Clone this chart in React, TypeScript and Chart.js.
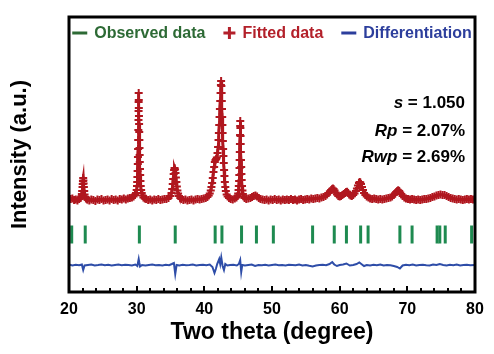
import React, { useEffect, useRef } from "react";
import { Chart, registerables } from "chart.js";

Chart.register(...registerables);

// ---------- DATA ----------
// [two theta (deg), intensity] of the fitted pattern, grouped by region
const fittedLowAngle: number[][] = [
  [20.0, 20], [20.25, 10], [20.5, 15], [20.75, 0], [21.0, 5], [21.25, -5], [21.5, 10], [21.7, 20],
  [21.8, 35], [21.9, 60], [21.95, 90], [22.0, 130], [22.03, 160], [22.06, 190], [22.1, 220], [22.13, 195],
  [22.16, 165], [22.2, 130], [22.25, 90], [22.3, 55], [22.38, 30], [22.5, 15],
  [22.7, 5], [23.0, -5], [23.3, 5], [23.6, 0], [23.9, -10], [24.2, 5], [24.5, 0], [24.8, 10], [25.1, -5],
  [25.4, 0], [25.7, 5], [26.0, -5], [26.3, 10], [26.6, 0], [26.9, 5], [27.2, -5], [27.5, 10], [27.8, 5],
  [28.1, 15], [28.4, 5], [28.7, 15], [29.0, 20], [29.3, 25],
];
const fittedPeak30: number[][] = [
  [29.55, 35], [29.75, 50], [29.9, 70], [30.0, 100], [30.05, 140], [30.08, 180], [30.11, 230], [30.14, 290],
  [30.17, 360], [30.19, 430], [30.21, 510], [30.23, 600], [30.25, 700], [30.27, 800], [30.28, 890],
  [30.29, 980], [30.3, 1070], [30.31, 1000], [30.32, 920], [30.34, 840], [30.36, 760], [30.38, 680],
  [30.4, 600], [30.42, 520], [30.44, 450], [30.46, 380], [30.49, 310], [30.52, 250], [30.56, 190],
  [30.6, 140], [30.66, 100], [30.75, 70], [30.85, 45], [31.0, 25], [31.2, 15],
];
const fittedMid: number[][] = [
  [31.4, 10], [31.7, 0], [32.0, 5], [32.3, -5], [32.6, 5], [32.9, 0], [33.2, 10], [33.5, 0], [33.8, 5],
  [34.1, 10], [34.4, 10], [34.7, 20],
  [35.0, 40], [35.15, 70], [35.25, 110], [35.33, 160], [35.4, 210], [35.47, 260], [35.53, 300], [35.6, 320],
  [35.67, 305], [35.74, 270], [35.8, 225], [35.87, 180], [35.94, 135], [36.02, 95], [36.12, 65],
  [36.25, 40], [36.45, 20],
  [36.6, 10], [36.9, 0], [37.2, 5], [37.5, -5], [37.8, 0], [38.1, 5], [38.4, -5], [38.7, 5], [39.0, 10],
  [39.3, 5], [39.6, 10], [39.9, 15], [40.2, 20],
];
const fittedPeak42: number[][] = [
  [40.45, 30], [40.65, 45], [40.8, 65], [40.95, 95], [41.05, 130], [41.15, 170], [41.25, 220], [41.35, 280],
  [41.45, 330], [41.55, 380], [41.65, 400], [41.75, 410], [41.85, 425], [41.95, 470], [42.03, 530],
  [42.1, 600], [42.15, 670], [42.2, 750], [42.25, 830], [42.3, 910], [42.35, 990], [42.4, 1070],
  [42.45, 1150], [42.48, 1190], [42.52, 1140], [42.55, 1070], [42.58, 990], [42.61, 910], [42.64, 830],
  [42.67, 750], [42.7, 670], [42.74, 590], [42.78, 510], [42.82, 440], [42.87, 370], [42.92, 300],
  [42.97, 240], [43.03, 180], [43.1, 130], [43.18, 90], [43.3, 55], [43.45, 35], [43.65, 20],
  [43.9, 10], [44.2, 5], [44.5, 15],
];
const fittedPeak45: number[][] = [
  [44.75, 25], [44.9, 40], [45.0, 65], [45.06, 100], [45.1, 140], [45.14, 190], [45.17, 250], [45.2, 320],
  [45.22, 400], [45.24, 480], [45.26, 560], [45.28, 650], [45.3, 740], [45.31, 790], [45.33, 720],
  [45.35, 640], [45.37, 560], [45.39, 480], [45.42, 400], [45.45, 330], [45.48, 260], [45.52, 200],
  [45.57, 140], [45.63, 95], [45.7, 60], [45.8, 35], [45.95, 20],
  [46.2, 10], [46.5, 15], [46.8, 20], [47.05, 30], [47.3, 40], [47.55, 45], [47.8, 35], [48.05, 20],
  [48.3, 10],
];
const fittedHighAngle: number[][] = [
  [48.6, 5], [48.9, 0], [49.2, 5], [49.5, -5], [49.8, 5], [50.1, 0], [50.4, 10], [50.7, 0], [51.0, 5],
  [51.3, -5], [51.6, 5], [51.9, 0], [52.2, 5], [52.5, 0], [52.8, 10], [53.1, 0], [53.4, 5], [53.7, -5],
  [54.0, 5], [54.3, 10], [54.6, 0], [54.9, 5], [55.2, 10], [55.5, 5], [55.8, 15], [56.1, 10], [56.4, 15],
  [56.7, 20], [57.0, 15], [57.3, 25], [57.6, 30],
  [57.9, 40], [58.15, 55], [58.35, 70], [58.55, 85], [58.75, 100], [58.9, 110], [59.0, 115], [59.1, 110],
  [59.25, 95], [59.4, 75], [59.6, 55], [59.8, 40], [60.0, 35], [60.2, 40], [60.4, 50], [60.6, 60],
  [60.8, 70], [60.95, 80], [61.1, 82], [61.25, 70], [61.4, 55], [61.6, 45], [61.8, 40], [62.0, 50],
  [62.2, 65], [62.4, 90], [62.55, 115], [62.7, 145], [62.85, 170], [62.95, 180], [63.05, 175],
  [63.15, 160], [63.3, 130], [63.45, 100], [63.6, 70], [63.8, 50], [64.0, 35], [64.25, 25],
  [64.5, 15], [64.8, 10], [65.1, 15], [65.4, 10], [65.7, 5], [66.0, 10], [66.3, 5], [66.6, 10], [66.9, 15],
  [67.2, 20], [67.5, 25],
  [67.75, 35], [68.0, 50], [68.2, 65], [68.35, 80], [68.5, 90], [68.65, 98], [68.8, 90], [68.95, 75],
  [69.1, 60], [69.3, 40], [69.55, 25], [69.8, 15],
  [70.1, 10], [70.4, 5], [70.7, 10], [71.0, 5], [71.3, 0], [71.6, 5], [71.9, 0], [72.2, 5], [72.5, 10],
  [72.8, 10], [73.1, 15],
  [73.4, 20], [73.7, 30], [74.0, 35], [74.3, 45], [74.6, 50], [74.9, 55], [75.2, 50], [75.5, 50],
  [75.8, 40], [76.1, 30], [76.4, 20], [76.7, 15],
  [77.0, 10], [77.3, 5], [77.6, 10], [77.9, 5], [78.2, 0], [78.5, 5], [78.8, 10], [79.1, 5], [79.4, 10],
  [79.7, 5], [80.0, 10],
];

// [two theta, offset difference curve]
const differenceCurve: number[][] = [
  [20.0, -645], [20.5, -655], [21.0, -648], [21.5, -652], [21.9, -645], [22.1, -700], [22.3, -655],
  [22.8, -650], [23.3, -646], [23.8, -654], [24.3, -650], [24.8, -645], [25.3, -652], [25.8, -648],
  [26.3, -655], [26.8, -650], [27.3, -645], [27.8, -652], [28.3, -648], [28.8, -650], [29.3, -655],
  [29.8, -645], [30.1, -660], [30.3, -590], [30.4, -630], [30.5, -665], [30.8, -650], [31.3, -655],
  [31.8, -650], [32.3, -645], [32.8, -652], [33.3, -650], [33.8, -655], [34.3, -648], [34.8, -652],
  [35.2, -640], [35.5, -630], [35.7, -740], [35.9, -650], [36.3, -655], [36.8, -648], [37.3, -652],
  [37.8, -650], [38.3, -645], [38.8, -655], [39.3, -650], [39.8, -648], [40.3, -652], [40.8, -645],
  [41.2, -670], [41.5, -730], [41.7, -690], [41.9, -640], [42.2, -590], [42.35, -640], [42.5, -575],
  [42.7, -660], [42.9, -700], [43.1, -640], [43.4, -655], [43.8, -650], [44.3, -648], [44.8, -655],
  [45.1, -640], [45.3, -600], [45.45, -720], [45.6, -650], [46.0, -655], [46.5, -650], [47.0, -645],
  [47.5, -660], [48.0, -650], [48.5, -652], [49.0, -648], [49.5, -655], [50.0, -650], [50.5, -645],
  [51.0, -652], [51.5, -650], [52.0, -655], [52.5, -648], [53.0, -650], [53.5, -652], [54.0, -645],
  [54.5, -655], [55.0, -650], [55.5, -658], [56.0, -665], [56.5, -655], [57.0, -650], [57.5, -648],
  [58.0, -652], [58.5, -640], [58.9, -620], [59.2, -645], [59.6, -660], [60.0, -650], [60.5, -645],
  [61.0, -635], [61.5, -655], [62.0, -650], [62.5, -640], [62.9, -625], [63.2, -640], [63.6, -660],
  [64.0, -650], [64.5, -655], [65.0, -648], [65.5, -652], [66.0, -645], [66.5, -655], [67.0, -650],
  [67.5, -652], [68.0, -660], [68.5, -670], [68.9, -685], [69.3, -655], [69.8, -648], [70.3, -652],
  [70.8, -645], [71.3, -655], [71.8, -650], [72.3, -648], [72.8, -652], [73.3, -655], [73.8, -645],
  [74.3, -650], [74.8, -640], [75.3, -650], [75.8, -655], [76.3, -648], [76.8, -652], [77.3, -645],
  [77.8, -655], [78.3, -650], [78.8, -648], [79.3, -652], [80.0, -650],
];

const braggPositions = [
  20.4, 22.4, 30.4, 35.7, 41.6, 42.6, 45.5, 47.7, 50.2, 56.0, 59.2, 61.0, 63.1, 64.2, 68.9, 70.7, 74.4, 74.8,
  75.6, 79.5,
];
const braggLevel = -345;

const seriesNames = ["Observed data", "Fitted data", "Differentiation"];
const statNames = ["s", "Rp", "Rwp"];
const statValues = ["1.050", "2.07%", "2.69%"];
const xTitle = "Two theta (degree)";
const yTitle = "Intensity (a.u.)";

// ---------- STYLE ----------
const FONT = '"Liberation Sans", Arial, Helvetica, sans-serif';
const RED = "#B0171F";
const GREEN_TICK = "#1E8A50";
const GREEN_TEXT = "#2D6A35";
const BLUE = "#2E4DA8";
const BLUE_TEXT = "#2C3E9C";
const RED_TEXT = "#B3202A";

const extrasPlugin = {
  id: "rietveldExtras",
  afterDatasetsDraw(chart: any) {
    const { ctx, chartArea } = chart;
    const { left, right, top, bottom } = chartArea;
    const xs = chart.scales.x;
    ctx.save();

    // inward ticks on bottom axis
    ctx.strokeStyle = "#000";
    ctx.lineWidth = 2;
    for (let v = xs.min; v <= xs.max + 1e-9; v += 2) {
      const px = Math.round(xs.getPixelForValue(v));
      const len = Math.abs(v % 10) < 1e-9 ? 6 : 4;
      ctx.beginPath();
      ctx.moveTo(px, bottom);
      ctx.lineTo(px, bottom - len);
      ctx.stroke();
    }

    // frame
    ctx.lineWidth = 3;
    ctx.strokeRect(left, top, right - left, bottom - top);

    // legend
    ctx.font = `bold 16px ${FONT}`;
    const markerW = [15, 12, 15];
    const colors = [GREEN_TEXT, RED_TEXT, BLUE_TEXT];
    const gap = 7;
    const itemGap = 18;
    const widths = seriesNames.map((t) => ctx.measureText(t).width);
    let total = 0;
    widths.forEach((w, i) => {
      total += markerW[i] + gap + w;
      if (i < widths.length - 1) total += itemGap;
    });
    let x = (left + right) / 2 - total / 2;
    const ly = top + 16;
    ctx.textBaseline = "middle";
    ctx.textAlign = "left";
    seriesNames.forEach((t, i) => {
      ctx.strokeStyle = colors[i];
      ctx.fillStyle = colors[i];
      ctx.lineWidth = 3;
      ctx.beginPath();
      ctx.moveTo(x, ly);
      ctx.lineTo(x + markerW[i], ly);
      if (i === 1) {
        const cx = x + markerW[i] / 2;
        ctx.moveTo(cx, ly - 6);
        ctx.lineTo(cx, ly + 6);
      }
      ctx.stroke();
      x += markerW[i] + gap;
      ctx.fillText(t, x, ly + 1);
      x += widths[i] + itemGap;
    });

    // statistics
    const rightEdge = right - 10;
    const rowY = [top + 86, top + 114, top + 140];
    ctx.fillStyle = "#000";
    statNames.forEach((n, i) => {
      const rest = ` = ${statValues[i]}`;
      ctx.font = `bold 17px ${FONT}`;
      const wRest = ctx.measureText(rest).width;
      ctx.font = `italic bold 17px ${FONT}`;
      const wName = ctx.measureText(n).width;
      const start = rightEdge - wRest - wName;
      ctx.fillText(n, start, rowY[i]);
      ctx.font = `bold 17px ${FONT}`;
      ctx.fillText(rest, start + wName, rowY[i]);
    });

    ctx.restore();
  },
};

export default function App() {
  const ref = useRef<HTMLCanvasElement | null>(null);

  useEffect(() => {
    document.body.style.margin = "0";
    const canvas = ref.current;
    if (!canvas) return;

    const fittedAll = [
      ...fittedLowAngle,
      ...fittedPeak30,
      ...fittedMid,
      ...fittedPeak42,
      ...fittedPeak45,
      ...fittedHighAngle,
    ];
    const fitted = fittedAll.map(([t, v]) => ({ x: t, y: v }));
    const diff = differenceCurve.map(([t, v]) => ({ x: t, y: v }));
    const bragg = braggPositions.map((t) => ({ x: t, y: braggLevel }));

    const chart = new Chart(canvas, {
      type: "scatter",
      data: {
        datasets: [
          {
            label: seriesNames[0],
            data: bragg,
            showLine: false,
            pointStyle: "line",
            rotation: 90,
            pointRadius: 9,
            pointBorderWidth: 3,
            borderColor: GREEN_TICK,
            backgroundColor: GREEN_TICK,
            order: 2,
          } as any,
          {
            label: seriesNames[1],
            data: fitted,
            showLine: true,
            borderColor: RED,
            backgroundColor: RED,
            borderWidth: 3,
            pointStyle: "cross",
            pointRadius: 4,
            pointBorderWidth: 2,
            pointBorderColor: RED,
            order: 1,
          } as any,
          {
            label: seriesNames[2],
            data: diff,
            showLine: true,
            borderColor: BLUE,
            backgroundColor: BLUE,
            borderWidth: 2,
            pointRadius: 0,
            order: 3,
          } as any,
        ],
      },
      options: {
        animation: false,
        responsive: false,
        devicePixelRatio: 1,
        layout: { padding: { top: 17, right: 19, left: 0, bottom: 0 } },
        plugins: { legend: { display: false }, tooltip: { enabled: false } },
        scales: {
          x: {
            type: "linear",
            min: 20,
            max: 80,
            ticks: {
              stepSize: 10,
              color: "#000",
              padding: 8,
              maxRotation: 0,
              font: { family: FONT, size: 16, weight: "bold" },
            },
            grid: { display: false, drawTicks: false },
            border: { display: false },
            title: {
              display: true,
              text: xTitle,
              color: "#000",
              font: { family: FONT, size: 23, weight: "bold" },
              padding: { top: 0, bottom: 8 },
            },
            afterFit(s: any) {
              s.height = 62;
            },
          },
          y: {
            type: "linear",
            min: -920,
            max: 1830,
            ticks: { display: false },
            grid: { display: false, drawTicks: false },
            border: { display: false },
            title: {
              display: true,
              text: yTitle,
              color: "#000",
              font: { family: FONT, size: 22, weight: "bold" },
              padding: { top: 7, bottom: 0 },
            },
            afterFit(s: any) {
              s.width = 69;
            },
          },
        },
      },
      plugins: [extrasPlugin],
    } as any);

    return () => chart.destroy();
  }, []);

  return (
    <div style={{ width: 494, height: 354 }}>
      <canvas ref={ref} width={494} height={354} style={{ display: "block" }} />
    </div>
  );
}
